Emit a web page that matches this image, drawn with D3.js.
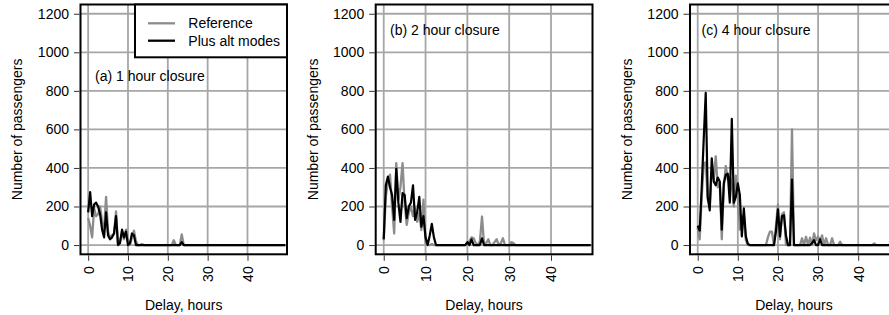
<!DOCTYPE html>
<html>
<head>
<meta charset="utf-8">
<script src="https://cdn.jsdelivr.net/npm/d3@7"></script>
<style>
  html, body { margin: 0; padding: 0; background: #fff; }
  svg { display: block; }
  text { font-family: "Liberation Sans", Arial, Helvetica, sans-serif; fill: #000; }
</style>
</head>
<body>
<svg id="chart" width="889" height="315"></svg>
<script>
// ---------- DATA ----------
const hours = [0,0.5,1,1.5,2,2.5,3,3.5,4,4.5,5,5.5,6,6.5,7,7.5,8,8.5,9,9.5,
  10,10.5,11,11.5,12,12.5,13,13.5,14,14.5,15,15.5,16,16.5,17,17.5,18,18.5,19,19.5,
  20,20.5,21,21.5,22,22.5,23,23.5,24,24.5,25,25.5,26,26.5,27,27.5,28,28.5,29,29.5,
  30,30.5,31,31.5,32,32.5,33,33.5,34,34.5,35,35.5,36,36.5,37,37.5,38,38.5,39,39.5,
  40,40.5,41,41.5,42,42.5,43,43.5,44,44.5,45,45.5,46,46.5,47,47.5,48,48.5,49,49.5];

const xTicks = [0, 10, 20, 30, 40];
const yTicks = [0, 200, 400, 600, 800, 1000, 1200];
const seriesNames = ["Reference", "Plus alt modes"];
const panelTitles = ["(a) 1 hour closure", "(b) 2 hour closure", "(c) 4 hour closure"];

// (a) 1 hour closure
const refA = [140,100,40,190,150,160,200,120,80,250,70,40,50,60,175,0,20,60,30,80,
  20,0,40,75,20,0,0,5,0,0,0,0,0,0,0,0,0,0,0,0,
  0,0,0,25,0,0,0,55,0,0,0,0,0,0,0,0,0,0,0,0,
  0,0,0,0,0,0,0,0,0,0,0,0,0,0,0,0,0,0,0,0,
  0,0,0,0,0,0,0,0,0,0,0,0,0,0,0,0,0,0,0,0];
const altA = [170,275,150,210,220,200,160,80,40,170,50,30,40,60,150,0,10,80,40,70,
  0,10,60,50,0,0,0,0,0,0,0,0,0,0,0,0,0,0,0,0,
  0,0,0,0,0,0,0,15,0,0,0,0,0,0,0,0,0,0,0,0,
  0,0,0,0,0,0,0,0,0,0,0,0,0,0,0,0,0,0,0,0,
  0,0,0,0,0,0,0,0,0,0,0,0,0,0,0,0,0,0,0,0];

// (b) 2 hour closure
const refB = [25,250,330,365,200,60,425,235,300,425,215,105,170,200,150,190,120,165,78,235,
  10,0,0,5,0,0,0,0,0,0,0,0,0,0,0,0,0,0,0,0,
  10,20,40,35,10,0,20,148,0,10,30,0,0,15,30,0,10,35,0,0,
  0,15,10,0,0,0,0,0,0,0,0,0,0,0,0,0,0,0,0,0,
  0,0,0,0,0,0,0,0,0,0,0,0,0,0,0,0,0,0,0,0];
const altB = [30,310,355,300,260,130,395,220,120,270,260,140,200,220,310,130,170,250,95,150,
  40,0,50,110,40,0,0,0,0,0,0,0,0,0,0,0,0,0,0,0,
  15,0,30,0,0,0,0,35,0,0,0,0,0,0,0,0,0,0,0,0,
  0,0,0,0,0,0,0,0,0,0,0,0,0,0,0,0,0,0,0,0,
  0,0,0,0,0,0,0,0,0,0,0,0,0,0,0,0,0,0,0,0];

// (c) 4 hour closure
const refC = [90,30,250,420,430,235,200,390,340,460,300,320,30,300,410,340,355,310,200,360,
  250,80,150,150,26,0,0,0,0,0,0,0,0,0,0,40,70,70,0,100,
  210,30,160,170,0,0,0,600,0,0,0,0,35,0,43,0,38,0,60,25,
  43,25,50,0,35,0,0,35,0,0,0,17,0,0,0,0,0,0,0,0,
  0,0,0,0,0,0,0,0,8,0,0,0,0,0,0,0,0,0,0,0];
const altC = [100,75,300,550,790,250,180,450,330,310,350,330,80,320,365,370,220,655,220,250,
  320,260,45,190,45,5,0,0,0,0,0,0,0,0,0,0,0,0,0,70,
  185,45,150,155,50,0,0,340,0,0,0,0,0,0,0,0,0,10,25,0,
  0,30,0,0,0,0,0,0,0,0,0,0,0,0,0,0,0,0,0,0,
  0,0,0,0,0,0,0,0,0,0,0,0,0,0,0,0,0,0,0,0];

const panelsRef = [refA, refB, refC];
const panelsAlt = [altA, altB, altC];

// ---------- LAYOUT ----------
const boxes = [
  { left: 80.5, right: 287 },
  { left: 375.7, right: 592.5 },
  { left: 690, right: 898 }
];
const boxTop = 4.5, boxBottom = 254.3;
const xDomain = [-1.92, 49.92];
const yDomain = [-48, 1248];
const FS = 14;
const gridColor = "#a6a6a6";
const refColor = "#8c8c8c";
const altColor = "#000000";

const svg = d3.select("#chart");

const y = d3.scaleLinear().domain(yDomain).range([boxBottom, boxTop]);

boxes.forEach((b, i) => {
  const x = d3.scaleLinear().domain(xDomain).range([b.left, b.right]);
  const g = svg.append("g");

  // grid
  g.selectAll("line.vg").data(xTicks).join("line")
    .attr("x1", d => x(d)).attr("x2", d => x(d))
    .attr("y1", boxTop).attr("y2", boxBottom)
    .attr("stroke", gridColor).attr("stroke-width", 1.8);
  g.selectAll("line.hg").data(yTicks).join("line")
    .attr("class", "hg")
    .attr("x1", b.left).attr("x2", b.right)
    .attr("y1", d => y(d)).attr("y2", d => y(d))
    .attr("stroke", gridColor).attr("stroke-width", 1.8);

  // series
  const line = d3.line().x((d, k) => x(hours[k])).y(d => y(d));
  g.append("path").datum(panelsRef[i])
    .attr("d", line).attr("fill", "none")
    .attr("stroke", refColor).attr("stroke-width", 2.3)
    .attr("stroke-linejoin", "round");
  g.append("path").datum(panelsAlt[i])
    .attr("d", line).attr("fill", "none")
    .attr("stroke", altColor).attr("stroke-width", 2.2)
    .attr("stroke-linejoin", "round");

  // box
  g.append("rect")
    .attr("x", b.left).attr("y", boxTop)
    .attr("width", b.right - b.left).attr("height", boxBottom - boxTop)
    .attr("fill", "none").attr("stroke", "#000").attr("stroke-width", 2);

  // y axis
  const yAxis = d3.axisLeft(y).tickValues(yTicks).tickFormat(d3.format("d"))
    .tickSize(5.5).tickPadding(5);
  const ya = g.append("g").attr("transform", `translate(${b.left - 1},0)`).call(yAxis);
  ya.select(".domain").remove();
  ya.selectAll(".tick line").attr("stroke", "#333").attr("stroke-width", 1);
  ya.selectAll(".tick text").attr("font-size", FS)
    .attr("font-family", "'Liberation Sans', Arial, sans-serif").attr("fill", "#000");

  // x axis
  const xAxis = d3.axisBottom(x).tickValues(xTicks).tickFormat(d3.format("d"))
    .tickSize(5.5).tickPadding(0);
  const xa = g.append("g").attr("transform", `translate(0,${boxBottom + 1})`).call(xAxis);
  xa.select(".domain").remove();
  xa.selectAll(".tick line").attr("stroke", "#333").attr("stroke-width", 1);
  xa.selectAll(".tick text")
    .attr("font-size", FS).attr("font-family", "'Liberation Sans', Arial, sans-serif")
    .attr("fill", "#000")
    .attr("transform", "translate(0,11) rotate(-90)")
    .attr("x", 0).attr("y", 0).attr("dy", "0.35em")
    .attr("text-anchor", "end");

  // axis titles
  g.append("text")
    .attr("transform", `translate(${b.left - 63},${(boxTop + boxBottom) / 2}) rotate(-90)`)
    .attr("text-anchor", "middle").attr("dy", "0.35em")
    .attr("font-size", FS).text("Number of passengers");
  g.append("text")
    .attr("x", (b.left + b.right) / 2).attr("y", 309.5)
    .attr("text-anchor", "middle")
    .attr("font-size", FS).text("Delay, hours");

  // panel title
  const titleY = i === 0 ? 76 : 30;
  const titleX = i === 0 ? 95 : (i === 1 ? 390 : 701.5);
  g.append("text")
    .attr("x", titleX).attr("y", titleY).attr("dy", "0.35em")
    .attr("font-size", FS).text(panelTitles[i]);

  // legend (panel a)
  if (i === 0) {
    const lg = g.append("g");
    lg.append("rect")
      .attr("x", 135).attr("y", boxTop)
      .attr("width", b.right - 135).attr("height", 57.3 - boxTop)
      .attr("fill", "#fff").attr("stroke", "#000").attr("stroke-width", 2);
    const colors = [refColor, altColor];
    const ly = [23.3, 40.7];
    seriesNames.forEach((name, k) => {
      lg.append("line")
        .attr("x1", 148).attr("x2", 175).attr("y1", ly[k]).attr("y2", ly[k])
        .attr("stroke", colors[k]).attr("stroke-width", 2.3);
      lg.append("text")
        .attr("x", 188.3).attr("y", ly[k]).attr("dy", "0.35em")
        .attr("font-size", FS).text(name);
    });
  }
});
</script>
</body>
</html>
